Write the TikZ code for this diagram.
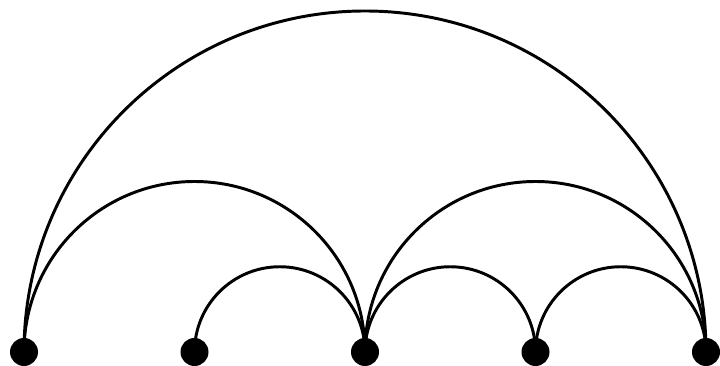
\documentclass[tikz,border=0pt]{standalone}
\begin{document}
\begin{tikzpicture}[dot/.style={circle, fill, inner sep=0pt, minimum size=0.7cm}]
  \useasboundingbox (0,0) rectangle (18,9.15);
  \node[dot] (v1) at (0.6,0.35) {};
  \node[dot] (v2) at (4.8625,0.35) {};
  \node[dot] (v3) at (9.125,0.35) {};
  \node[dot] (v4) at (13.3875,0.35) {};
  \node[dot] (v5) at (17.65,0.35) {};
  \begin{scope}[line width=2.1pt]
  \draw (v1.center) arc[start angle=180, end angle=0, radius=8.525cm];
  \draw (v1.center) arc[start angle=180, end angle=0, radius=4.2625cm];
  \draw (v3.center) arc[start angle=180, end angle=0, radius=4.2625cm];
  \draw (v2.center) arc[start angle=180, end angle=0, radius=2.13125cm];
  \draw (v3.center) arc[start angle=180, end angle=0, radius=2.13125cm];
  \draw (v4.center) arc[start angle=180, end angle=0, radius=2.13125cm];
  \end{scope}
\end{tikzpicture}
\end{document}
